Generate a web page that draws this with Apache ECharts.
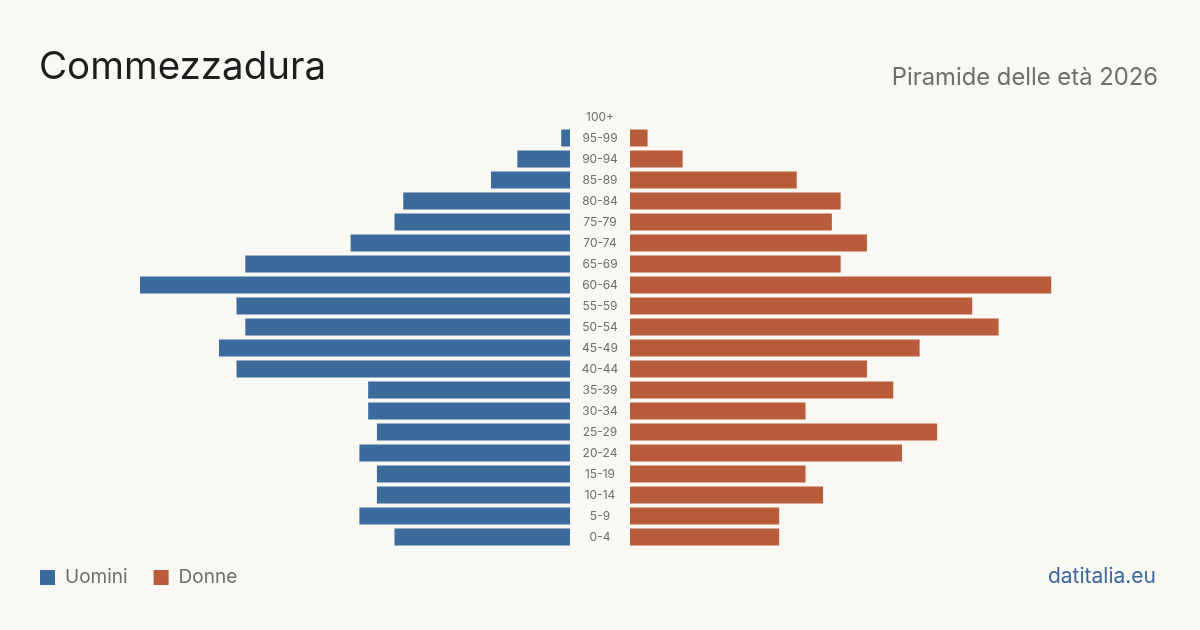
<!DOCTYPE html>
<html>
<head>
<meta charset="utf-8">
<script src="https://cdn.jsdelivr.net/npm/echarts@6/dist/echarts.min.js"></script>
<style>
  html, body { margin: 0; padding: 0; background: #faf8f3; }
  #chart { width: 1200px; height: 630px; }
</style>
</head>
<body>
<div id="chart"></div>
<script>
// classi di età, dal basso verso l'alto
const ageGroups = ["0-4", "5-9", "10-14", "15-19", "20-24", "25-29", "30-34", "35-39", "40-44", "45-49",
  "50-54", "55-59", "60-64", "65-69", "70-74", "75-79", "80-84", "85-89", "90-94", "95-99", "100+"];
const uomini = [20, 24, 22, 22, 24, 22, 23, 23, 38, 40, 37, 38, 49, 37, 25, 20, 19, 9, 6, 1, 0];
const donne = [17, 17, 22, 20, 31, 35, 20, 30, 27, 33, 42, 39, 48, 24, 27, 23, 24, 19, 6, 2, 0];

const maxVal = Math.max(...uomini, ...donne);
const fontFam = "Inter, 'Noto Sans', sans-serif";

const myChart = echarts.init(document.getElementById("chart"));
const option = {
  backgroundColor: "#faf8f3",
  animation: false,
  title: [
    {
      text: "Commezzadura",
      left: 34,
      top: 43,
      textStyle: { fontFamily: fontFam, fontSize: 38.5, fontWeight: "normal", color: "#1d1d1d" }
    },
    {
      text: "Piramide delle età 2026",
      right: 37,
      top: 61,
      textStyle: { fontFamily: fontFam, fontSize: 23.8, fontWeight: "normal", color: "#6e6e6e" }
    },
    {
      text: "datitalia.eu",
      right: 39,
      top: 561,
      textStyle: { fontFamily: fontFam, fontSize: 21, fontWeight: "normal", color: "#3a6a9e" }
    }
  ],
  legend: {
    left: 35,
    top: 563,
    itemWidth: 15,
    itemHeight: 15,
    itemGap: 26,
    icon: "rect",
    textStyle: { fontFamily: fontFam, fontSize: 19, color: "#6e6e6e", padding: [0, 0, 0, 5] },
    data: ["Uomini", "Donne"]
  },
  grid: [
    { left: 570 - 430, width: 430, top: 106.5, height: 441 },
    { left: 630, width: 430, top: 106.5, height: 441 }
  ],
  xAxis: [
    { gridIndex: 0, type: "value", inverse: true, min: 0, max: maxVal, show: false },
    { gridIndex: 1, type: "value", min: 0, max: maxVal, show: false }
  ],
  yAxis: [
    {
      gridIndex: 0,
      type: "category",
      position: "right",
      data: ageGroups,
      axisLine: { show: false },
      axisTick: { show: false },
      axisLabel: {
        margin: 30,
        align: "center",
        fontFamily: fontFam,
        fontSize: 12,
        color: "#6e6e6e"
      }
    },
    {
      gridIndex: 1,
      type: "category",
      data: ageGroups,
      show: false
    }
  ],
  series: [
    {
      name: "Uomini",
      type: "bar",
      xAxisIndex: 0,
      yAxisIndex: 0,
      barCategoryGap: "19%",
      itemStyle: { color: "#3b6b9b" },
      data: uomini
    },
    {
      name: "Donne",
      type: "bar",
      xAxisIndex: 1,
      yAxisIndex: 1,
      barCategoryGap: "19%",
      itemStyle: { color: "#b95c3c" },
      data: donne
    }
  ]
};
myChart.setOption(option);
</script>
</body>
</html>
